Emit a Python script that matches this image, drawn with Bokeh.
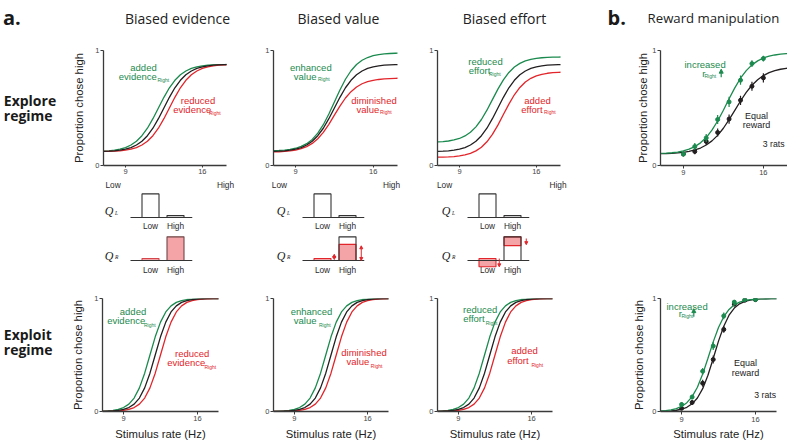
from bokeh.plotting import figure
from bokeh.layouts import row, column
from bokeh.models import Label, Arrow, NormalHead, FixedTicker, Range1d, LinearAxis
from bokeh.embed import file_html
from bokeh.resources import INLINE

# ---------------- data ----------------
X_GRID = [7.0, 7.5, 8.0, 8.5, 9.0, 9.5, 10.0, 10.5, 11.0, 11.5, 12.0, 12.5,
          13.0, 13.5, 14.0, 14.5, 15.0, 15.5, 16.0, 16.5, 17.0, 17.5, 18.0, 18.5]
X_TICKS = [9, 16]
Y_TICKS = [0, 1]

# explore regime model curves
EXPLORE_BASE = [0.123, 0.125, 0.128, 0.134, 0.142, 0.156, 0.178, 0.211, 0.259, 0.324, 0.407, 0.500,
                0.593, 0.676, 0.741, 0.789, 0.822, 0.844, 0.858, 0.866, 0.872, 0.875, 0.877, 0.878]
EVIDENCE_ADDED = [0.125, 0.128, 0.134, 0.142, 0.156, 0.178, 0.211, 0.259, 0.324, 0.407, 0.500, 0.593,
                  0.676, 0.741, 0.789, 0.822, 0.844, 0.858, 0.866, 0.872, 0.875, 0.877, 0.878, 0.879]
EVIDENCE_REDUCED = [0.122, 0.123, 0.125, 0.128, 0.134, 0.142, 0.156, 0.178, 0.211, 0.259, 0.324, 0.407,
                    0.500, 0.593, 0.676, 0.741, 0.789, 0.822, 0.844, 0.858, 0.866, 0.872, 0.875, 0.877]
VALUE_ENHANCED = [0.129, 0.131, 0.134, 0.140, 0.150, 0.166, 0.190, 0.227, 0.281, 0.355, 0.448, 0.553,
                  0.657, 0.750, 0.824, 0.878, 0.915, 0.939, 0.955, 0.965, 0.971, 0.974, 0.976, 0.977]
VALUE_DIMINISHED = [0.118, 0.119, 0.122, 0.127, 0.134, 0.146, 0.164, 0.192, 0.233, 0.288, 0.358, 0.438,
                    0.517, 0.587, 0.642, 0.683, 0.711, 0.729, 0.741, 0.748, 0.753, 0.756, 0.758, 0.759]
EFFORT_REDUCED = [0.205, 0.208, 0.213, 0.222, 0.235, 0.257, 0.289, 0.336, 0.400, 0.481, 0.573, 0.664,
                  0.745, 0.809, 0.856, 0.888, 0.910, 0.923, 0.932, 0.937, 0.940, 0.942, 0.943, 0.944]
EFFORT_ADDED = [0.072, 0.073, 0.075, 0.078, 0.083, 0.092, 0.105, 0.127, 0.159, 0.206, 0.270, 0.351,
                0.443, 0.534, 0.615, 0.679, 0.726, 0.758, 0.780, 0.793, 0.802, 0.807, 0.810, 0.812]

# exploit regime model curves (evidence and effort panels)
EXPLOIT_BASE = [0.001, 0.003, 0.005, 0.009, 0.018, 0.035, 0.065, 0.119, 0.209, 0.339, 0.500, 0.661,
                0.791, 0.881, 0.935, 0.966, 0.982, 0.991, 0.995, 0.998, 0.999, 0.999, 1.000, 1.000]
EXPLOIT_UP = [0.003, 0.005, 0.009, 0.018, 0.035, 0.065, 0.119, 0.209, 0.339, 0.500, 0.661, 0.791,
              0.881, 0.935, 0.966, 0.982, 0.991, 0.995, 0.998, 0.999, 0.999, 1.000, 1.000, 1.000]
EXPLOIT_DOWN = [0.001, 0.001, 0.003, 0.005, 0.009, 0.018, 0.035, 0.065, 0.119, 0.209, 0.339, 0.500,
                0.661, 0.791, 0.881, 0.935, 0.966, 0.982, 0.991, 0.995, 0.998, 0.999, 0.999, 1.000]
# exploit regime, value panel (curves sit a little further right)
EXPLOIT_VALUE_BASE = [0.001, 0.001, 0.003, 0.005, 0.009, 0.018, 0.035, 0.065, 0.119, 0.209, 0.339, 0.500,
                      0.661, 0.791, 0.881, 0.935, 0.966, 0.982, 0.991, 0.995, 0.998, 0.999, 0.999, 1.000]
EXPLOIT_VALUE_UP = [0.001, 0.003, 0.005, 0.009, 0.018, 0.035, 0.065, 0.119, 0.209, 0.339, 0.500, 0.661,
                    0.791, 0.881, 0.935, 0.966, 0.982, 0.991, 0.995, 0.998, 0.999, 0.999, 1.000, 1.000]
EXPLOIT_VALUE_DOWN = [0.000, 0.001, 0.001, 0.003, 0.005, 0.009, 0.018, 0.035, 0.065, 0.119, 0.209, 0.339,
                      0.500, 0.661, 0.791, 0.881, 0.935, 0.966, 0.982, 0.991, 0.995, 0.998, 0.999, 0.999]

# reward manipulation (3 rats)
RATE_HZ = [9, 10, 11, 12, 13, 14, 15, 16]
EXPLORE_EQUAL = [0.100, 0.122, 0.209, 0.287, 0.404, 0.567, 0.689, 0.762]
EXPLORE_EQUAL_ERR = [0.020, 0.025, 0.030, 0.035, 0.040, 0.040, 0.040, 0.040]
EXPLORE_INCREASED = [0.100, 0.165, 0.240, 0.400, 0.553, 0.742, 0.886, 0.930]
EXPLORE_INCREASED_ERR = [0.020, 0.030, 0.035, 0.040, 0.045, 0.040, 0.030, 0.025]
EXPLOIT_EQUAL = [0.028, 0.080, 0.250, 0.460, 0.726, 0.950, 0.985, 0.990]
EXPLOIT_EQUAL_ERR = [0.015, 0.020, 0.030, 0.035, 0.030, 0.015, 0.010, 0.010]
EXPLOIT_INCREASED = [0.062, 0.128, 0.356, 0.579, 0.846, 0.968, 0.991, 0.991]
EXPLOIT_INCREASED_ERR = [0.020, 0.020, 0.030, 0.035, 0.030, 0.015, 0.010, 0.010]
FIT_EXPLORE_EQUAL = [0.103, 0.104, 0.106, 0.110, 0.115, 0.123, 0.135, 0.152, 0.178, 0.214, 0.262, 0.324,
                     0.399, 0.480, 0.561, 0.636, 0.698, 0.746, 0.782, 0.808, 0.825, 0.837, 0.845, 0.851]
FIT_EXPLORE_INCREASED = [0.105, 0.107, 0.111, 0.117, 0.127, 0.142, 0.164, 0.197, 0.243, 0.307, 0.387, 0.480,
                         0.580, 0.675, 0.759, 0.825, 0.875, 0.910, 0.935, 0.951, 0.961, 0.968, 0.972, 0.975]
FIT_EXPLOIT_EQUAL = [0.002, 0.003, 0.006, 0.011, 0.020, 0.037, 0.068, 0.119, 0.202, 0.321, 0.469, 0.623,
                     0.755, 0.852, 0.915, 0.953, 0.974, 0.986, 0.992, 0.996, 0.998, 0.999, 0.999, 1.000]
FIT_EXPLOIT_INCREASED = [0.004, 0.008, 0.014, 0.025, 0.045, 0.078, 0.132, 0.215, 0.331, 0.471, 0.616, 0.743,
                         0.839, 0.903, 0.944, 0.968, 0.982, 0.990, 0.994, 0.997, 0.998, 0.999, 1.000, 1.000]

# Q value bar diagrams
BAR_CATS = ["Low", "High"]
Q_LEFT = [1.0, 0.08]
QR_EVIDENCE = [0.08, 1.0]
QR_VALUE_ORIGINAL = [0.08, 1.0]
QR_VALUE_SCALED = [0.08, 0.68]
QR_EFFORT_ORIGINAL = [0.08, 1.0]
QR_EFFORT_COST = [0.35, 0.37]
VALUE_ARROWS = [("Low", 0.04, 0.26, True), ("High", 0.0, 0.62, True)]
EFFORT_ARROWS = [("Low", 0.08, -0.27, False), ("High", 0.93, 0.67, False)]

COL_TITLES = ["Biased evidence", "Biased value", "Biased effort", "Reward manipulation"]
Y_TITLE = "Proportion chose high"
X_TITLE = "Stimulus rate (Hz)"

# ---------------- styles ----------------
GREEN = "#1b8a4e"
RED = "#e2252b"
BLACK = "#231f20"
PINK = "#f4a3a6"
AXIS = "#3a3a3a"
LABEL_GREY = "#2a2a2a"
SANS = "Liberation Sans"
HEAD = "Open Sans"


def mkfig(ox, oy, w, h, fl, ft, fw, fh, xr, yr, axes="xy"):
    kw = dict(x_axis_location="below" if "x" in axes else None,
              y_axis_location="left" if "y" in axes else None)
    p = figure(width=w, height=h, x_range=Range1d(xr[0], xr[1]), y_range=Range1d(yr[0], yr[1]),
               min_border_left=fl - ox, min_border_right=ox + w - fl - fw,
               min_border_top=ft - oy, min_border_bottom=oy + h - ft - fh,
               output_backend="svg", toolbar_location=None, tools="", **kw)
    p.outline_line_color = None
    p.xgrid.visible = False
    p.ygrid.visible = False
    p.border_fill_color = "white"
    return p, dict(fl=fl, ft=ft, fw=fw, fh=fh, xr=xr, yr=yr)


def to_data(g, X, Y):
    x = g["xr"][0] + (X - g["fl"]) * (g["xr"][1] - g["xr"][0]) / g["fw"]
    y = g["yr"][1] - (Y - g["ft"]) * (g["yr"][1] - g["yr"][0]) / g["fh"]
    return x, y


def to_ref(g, x, y):
    X = g["fl"] + (x - g["xr"][0]) * g["fw"] / (g["xr"][1] - g["xr"][0])
    Y = g["ft"] + (g["yr"][1] - y) * g["fh"] / (g["yr"][1] - g["yr"][0])
    return X, Y


def put(p, g, X, Y, text, size="9.5px", color=BLACK, align="left", baseline="middle",
        font=SANS, style="normal"):
    x, y = to_data(g, X, Y)
    p.add_layout(Label(x=x, y=y, text=text, text_font_size=size, text_color=color,
                       text_align=align, text_baseline=baseline, text_font=font,
                       text_font_style=style))


def style_axes(p, xlabel=None, ylabel=None, ylab_standoff=6, xlab_standoff=4, xtick_standoff=1):
    for ax in (p.xaxis[0], p.yaxis[0]):
        ax.axis_line_color = AXIS
        ax.axis_line_width = 1.3
        ax.major_tick_line_color = AXIS
        ax.major_tick_out = 3
        ax.major_tick_in = 0
        ax.minor_tick_line_color = None
        ax.major_label_text_font = SANS
        ax.major_label_text_font_size = "7.5px"
        ax.major_label_text_color = "#444444"
        ax.major_label_standoff = 1
        ax.axis_label_text_font = SANS
        ax.axis_label_text_font_size = "11.3px"
        ax.axis_label_text_font_style = "normal"
        ax.axis_label_text_color = "#222222"
    p.xaxis[0].ticker = FixedTicker(ticks=X_TICKS)
    p.xaxis[0].major_label_standoff = xtick_standoff
    p.yaxis[0].ticker = FixedTicker(ticks=Y_TICKS)
    if xlabel:
        p.xaxis[0].axis_label = xlabel
        p.xaxis[0].axis_label_standoff = xlab_standoff
    if ylabel:
        p.yaxis[0].axis_label = ylabel
        p.yaxis[0].axis_label_standoff = ylab_standoff


def labelled(p, g, spec, color):
    word1, c1, w2, c2, sub = spec
    put(p, g, c1[0], c1[1], word1, color=color, align="center")
    put(p, g, c2[0], c2[1], w2, color=color)
    put(p, g, sub[0], sub[1], "Right", size="5px", color=color)


# ---------------- title strip ----------------
tfig, tg = mkfig(0, 0, 787, 30, 0, 0, 787, 30, (0, 787), (30, 0), axes="")
for txt, X, size in zip(COL_TITLES, [177, 338, 504, 713], ["14px", "14px", "14px", "13.2px"]):
    tfig.add_layout(Label(x=X, y=17.5, text=txt, text_font=HEAD, text_font_size=size,
                          text_color="#222222", text_align="center", text_baseline="alphabetic"))
for txt, X in [("a.", 2.5), ("b.", 607)]:
    tfig.add_layout(Label(x=X, y=17, text=txt, text_font=HEAD, text_font_size="20px",
                          text_font_style="bold", text_color="#1a1a1a", text_align="left",
                          text_baseline="alphabetic"))

# ---------------- left labels ----------------
lfig, lg = mkfig(0, 30, 60, 417, 0, 30, 60, 417, (0, 60), (447, 30), axes="")
for txt, Y in [("Explore", 100), ("regime", 115), ("Exploit", 333.5), ("regime", 348.5)]:
    lfig.add_layout(Label(x=3.3, y=Y, text=txt, text_font=HEAD, text_font_size="14px",
                          text_font_style="bold", text_color="#1a1a1a", text_align="left",
                          text_baseline="alphabetic"))

# ---------------- row A: explore regime ----------------
A_SPECS = [
    (60, 185, 103, 123, [(EVIDENCE_ADDED, GREEN), (EVIDENCE_REDUCED, RED), (EXPLORE_BASE, BLACK)],
     ("added", (143, 68), "evidence", (118.3, 77.7), (157, 81.5)),
     ("reduced", (197.5, 103.3), "evidence", (172.7, 112.7), (208.5, 116.7)),
     (112.5, 225)),
    (245, 167, 273, 124, [(VALUE_ENHANCED, GREEN), (VALUE_DIMINISHED, RED), (EXPLORE_BASE, BLACK)],
     ("enhanced", (310.3, 68.3), "value", (293.3, 77.7), (317.5, 81)),
     ("diminished", (373.5, 103.3), "value", (356, 112.7), (379.5, 116.3)),
     (279, 391)),
    (412, 188, 437, 123, [(EFFORT_REDUCED, GREEN), (EFFORT_ADDED, RED), (EXPLORE_BASE, BLACK)],
     ("reduced", (485, 62), "effort", (468.3, 71.7), (488.5, 75)),
     ("added", (537, 103.3), "effort", (520.7, 112.7), (543.5, 116)),
     (444, 557.5)),
]
row_a = []
for i, (ox, w, fl, fw, curves, gl, rl, lh) in enumerate(A_SPECS):
    p, g = mkfig(ox, 30, w, 162, fl, 50, fw, 123, (7, 18.2), (0, 1))
    for ys, col in curves:
        p.line(X_GRID, ys, line_color=col, line_width=1.3)
    style_axes(p, ylabel=Y_TITLE if i == 0 else None, ylab_standoff=7)
    p.xaxis[0].major_tick_out = 2
    labelled(p, g, gl, GREEN)
    labelled(p, g, rl, RED)
    lo = round(to_data(g, lh[0], 0)[0], 2)
    hi = round(to_data(g, lh[1], 0)[0], 2)
    ends = LinearAxis(ticker=FixedTicker(ticks=[lo, hi]), major_label_overrides={lo: "Low", hi: "High"},
                      axis_line_color=None, major_tick_line_color=None, minor_tick_line_color=None,
                      major_label_standoff=-3, major_label_text_font=SANS,
                      major_label_text_font_size="8.3px", major_label_text_color=LABEL_GREY)
    p.add_layout(ends, "below")
    row_a.append(p)

pb, gb = mkfig(600, 30, 187, 162, 660, 50, 127, 123, (7, 18.11), (0, 1))
for fit, pts, err, col in [(FIT_EXPLORE_EQUAL, EXPLORE_EQUAL, EXPLORE_EQUAL_ERR, BLACK),
                           (FIT_EXPLORE_INCREASED, EXPLORE_INCREASED, EXPLORE_INCREASED_ERR, GREEN)]:
    pb.line(X_GRID, fit, line_color=col, line_width=1.3)
    pb.segment(x0=RATE_HZ, x1=RATE_HZ, y0=[v - e for v, e in zip(pts, err)],
               y1=[v + e for v, e in zip(pts, err)], line_color=col, line_width=1.2)
    pb.scatter(RATE_HZ, pts, size=4, color=col)
style_axes(pb, ylabel=Y_TITLE, ylab_standoff=0)
put(pb, gb, 684, 65, "increased", color=GREEN)
put(pb, gb, 701.7, 74.5, "r", color=GREEN)
put(pb, gb, 704, 77, "Right", size="5px", color=GREEN)
ax0, ay0 = to_data(gb, 720.7, 78.5)
ax1, ay1 = to_data(gb, 720.7, 70)
pb.add_layout(Arrow(x_start=ax0, y_start=ay0, x_end=ax1, y_end=ay1, line_color=GREEN, line_width=1.2,
                    end=NormalHead(size=4, fill_color=GREEN, line_color=GREEN)))
put(pb, gb, 756, 120, "Equal", size="9px", color="#222222", align="center")
put(pb, gb, 756, 130, "reward", size="9px", color="#222222", align="center")
put(pb, gb, 784, 150, "3 rats", size="8.7px", color="#222222", align="right")
row_a.append(pb)

# ---------------- row B: Q value bars ----------------
BAR_XR = (-2.0, 1.68)
BASE_BOUNDS = (-0.8, 1.68)


def bar_fig(ox, w, fl, oy, h, ft, fh, yr, standoff):
    p, g = mkfig(ox, oy, w, h, fl, ft, 92, fh, BAR_XR, yr, axes="x")
    ax = p.xaxis[0]
    ax.fixed_location = 0
    ax.bounds = BASE_BOUNDS
    ax.ticker = FixedTicker(ticks=list(range(len(BAR_CATS))))
    ax.major_label_overrides = {i: c for i, c in enumerate(BAR_CATS)}
    ax.axis_line_color = "#333333"
    ax.axis_line_width = 1.1
    ax.major_tick_line_color = None
    ax.major_tick_out = 0
    ax.major_tick_in = 0
    ax.minor_tick_line_color = None
    ax.major_label_standoff = standoff
    ax.major_label_text_font = SANS
    ax.major_label_text_font_size = "8.3px"
    ax.major_label_text_color = LABEL_GREY
    return p, g


def q_label(p, g, sub, dy_q, dy_s):
    X0, Yb = to_ref(g, BASE_BOUNDS[0], 0)
    put(p, g, X0 - 21.5, Yb + dy_q, "Q", size="12px", color="#222222", align="center",
        font="Liberation Serif", style="italic")
    put(p, g, X0 - 15.5, Yb + dy_s, sub, size="5.5px", color="#222222",
        font="Liberation Serif", style="italic")


idx = list(range(len(BAR_CATS)))
row_b = []
for k, (ox, w, fl) in enumerate([(60, 185, 100), (245, 167, 272), (412, 188, 437)]):
    ql, gql = bar_fig(ox, w, fl, 192, 40, 192, 40, (-0.636, 1.06), 3)
    ql.vbar(x=idx, width=0.68, bottom=0, top=Q_LEFT, fill_color="white", line_color="#333333",
            line_width=1.1)
    q_label(ql, gql, "L", -7, -5)

    qr, gqr = bar_fig(ox, w, fl, 232, 52, 234, 50, (-1.02, 1.10), 5)
    if k == 0:
        qr.vbar(x=idx, width=0.68, bottom=0, top=QR_EVIDENCE, fill_color=PINK,
                line_color=["#d4464b", "#6e4646"], line_width=1.1)
    elif k == 1:
        qr.vbar(x=idx, width=0.68, bottom=0, top=QR_VALUE_SCALED, fill_color=PINK,
                line_color=RED, line_width=1.1)
        qr.vbar(x=[1], width=0.68, bottom=0, top=[QR_VALUE_ORIGINAL[1]], fill_color=None,
                line_color="#333333", line_width=1.1)
    else:
        qr.vbar(x=idx, width=0.68, bottom=[o - c for o, c in zip(QR_EFFORT_ORIGINAL, QR_EFFORT_COST)],
                top=QR_EFFORT_ORIGINAL, fill_color=PINK, line_color=RED, line_width=1.1)
        qr.vbar(x=[1], width=0.68, bottom=0, top=[QR_EFFORT_ORIGINAL[1]], fill_color=None,
                line_color="#333333", line_width=1.1)
    if k > 0:
        arrows = VALUE_ARROWS if k == 1 else EFFORT_ARROWS
        offs = {"Low": 0.47, "High": 0.55}
        for cat, y0, y1, both in arrows:
            xa = BAR_CATS.index(cat) + offs[cat]
            qr.add_layout(Arrow(x_start=xa, y_start=y0, x_end=xa, y_end=y1, line_color=RED,
                                line_width=1,
                                start=NormalHead(size=3, fill_color=RED, line_color=RED) if both else None,
                                end=NormalHead(size=3, fill_color=RED, line_color=RED)))
    q_label(qr, gqr, "R", -4.5, -3.5)
    row_b.append(column(ql, qr))

# ---------------- row C: exploit regime ----------------
C_SPECS = [
    (60, 185, 102, 116, [(EXPLOIT_UP, GREEN), (EXPLOIT_DOWN, RED), (EXPLOIT_BASE, BLACK)],
     ("added", (132.5, 309.3), "evidence", (106.7, 318.3), (143.5, 323)),
     ("reduced", (191.7, 351.7), "evidence", (166.7, 360.7), (204, 365.5))),
    (245, 167, 273, 115, [(EXPLOIT_VALUE_UP, GREEN), (EXPLOIT_VALUE_DOWN, RED), (EXPLOIT_VALUE_BASE, BLACK)],
     ("enhanced", (311, 309.3), "value", (293.3, 318.3), (318.5, 323)),
     ("diminished", (363.5, 351), "value", (346, 360), (370.3, 364.7))),
    (412, 188, 437, 115, [(EXPLOIT_UP, GREEN), (EXPLOIT_DOWN, RED), (EXPLOIT_BASE, BLACK)],
     ("reduced", (479.7, 307.3), "effort", (462.7, 316.7), (485.2, 321)),
     ("added", (524, 349), "effort", (506.7, 358.7), (530.9, 363.3))),
]
row_c = []
for i, (ox, w, fl, fw, curves, gl, rl) in enumerate(C_SPECS):
    p, g = mkfig(ox, 284, w, 163, fl, 296, fw, 115, (7, 18), (0, 1))
    for ys, col in curves:
        p.line(X_GRID, ys, line_color=col, line_width=1.3)
    style_axes(p, xlabel=X_TITLE, ylabel=Y_TITLE if i == 0 else None, ylab_standoff=7,
               xlab_standoff=4, xtick_standoff=1)
    labelled(p, g, gl, GREEN)
    labelled(p, g, rl, RED)
    row_c.append(p)

pc, gc = mkfig(600, 284, 187, 163, 660, 298, 116, 117, (7, 18), (0, 1))
for fit, pts, err, col in [(FIT_EXPLOIT_EQUAL, EXPLOIT_EQUAL, EXPLOIT_EQUAL_ERR, BLACK),
                           (FIT_EXPLOIT_INCREASED, EXPLOIT_INCREASED, EXPLOIT_INCREASED_ERR, GREEN)]:
    pc.line(X_GRID, fit, line_color=col, line_width=1.3)
    pc.segment(x0=RATE_HZ, x1=RATE_HZ, y0=[v - e for v, e in zip(pts, err)],
               y1=[v + e for v, e in zip(pts, err)], line_color=col, line_width=1.2)
    pc.scatter(RATE_HZ, pts, size=4, color=col)
style_axes(pc, xlabel=X_TITLE, ylabel=Y_TITLE, ylab_standoff=4, xlab_standoff=3, xtick_standoff=2)
put(pc, gc, 666, 306.7, "increased", color=GREEN)
put(pc, gc, 678.3, 313.5, "r", color=GREEN)
put(pc, gc, 681, 316, "Right", size="5px", color=GREEN)
bx0, by0 = to_data(gc, 693.3, 317)
bx1, by1 = to_data(gc, 693.3, 308.5)
pc.add_layout(Arrow(x_start=bx0, y_start=by0, x_end=bx1, y_end=by1, line_color=GREEN, line_width=1.2,
                    end=NormalHead(size=4, fill_color=GREEN, line_color=GREEN)))
put(pc, gc, 745, 365, "Equal", size="9px", color="#222222", align="center")
put(pc, gc, 745, 375, "reward", size="9px", color="#222222", align="center")
put(pc, gc, 775.5, 398.3, "3 rats", size="8.7px", color="#222222", align="right")
row_c.append(pc)

layout = column(tfig, row(lfig, column(row(*row_a), row(*row_b), row(*row_c))))
open("out.html", "w").write(file_html(layout, INLINE))
